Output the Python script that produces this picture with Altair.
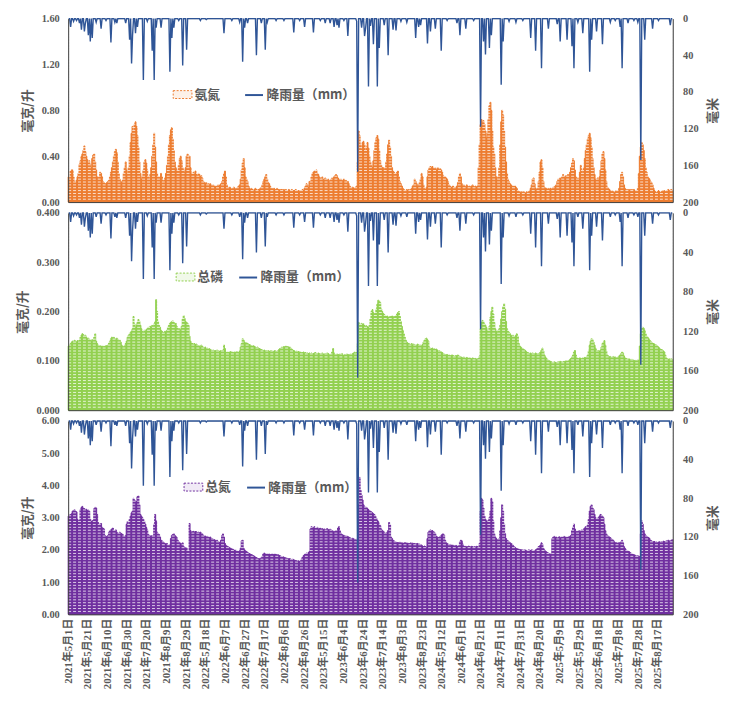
import altair as alt
import pandas as pd

YEARS = [2021, 2022, 2023, 2024, 2025]  # each year: 5月1日 - 8月31日, 123 days

# 氨氮 (毫克/升)
NH_2021 = [0.22, 0.20, 0.27, 0.28, 0.28, 0.22, 0.18, 0.17, 0.19, 0.22,
           0.25, 0.33, 0.36, 0.40, 0.42, 0.45, 0.49, 0.44, 0.40, 0.37,
           0.34, 0.36, 0.33, 0.30, 0.38, 0.41, 0.42, 0.35, 0.28, 0.22,
           0.20, 0.22, 0.26, 0.25, 0.22, 0.18, 0.17, 0.16, 0.16, 0.17,
           0.18, 0.19, 0.22, 0.26, 0.30, 0.35, 0.40, 0.44, 0.46, 0.43,
           0.35, 0.25, 0.20, 0.18, 0.17, 0.19, 0.25, 0.30, 0.35, 0.28,
           0.24, 0.30, 0.40, 0.52, 0.60, 0.66, 0.62, 0.68, 0.70, 0.66,
           0.58, 0.48, 0.35, 0.25, 0.20, 0.22, 0.28, 0.35, 0.37, 0.34,
           0.28, 0.22, 0.20, 0.24, 0.30, 0.40, 0.50, 0.60, 0.48, 0.35,
           0.25, 0.22, 0.20, 0.22, 0.25, 0.22, 0.18, 0.19, 0.21, 0.25,
           0.32, 0.40, 0.50, 0.58, 0.63, 0.65, 0.55, 0.45, 0.35, 0.30,
           0.28, 0.27, 0.32, 0.38, 0.40, 0.36, 0.30, 0.28, 0.26, 0.30,
           0.40, 0.42, 0.30]
NH_2022 = [0.40, 0.30, 0.25, 0.24, 0.26, 0.25, 0.27, 0.24, 0.23, 0.25,
           0.24, 0.22, 0.23, 0.21, 0.18, 0.17, 0.16, 0.17, 0.15, 0.16,
           0.15, 0.16, 0.15, 0.14, 0.15, 0.14, 0.13, 0.14, 0.13, 0.15,
           0.14, 0.15, 0.16, 0.18, 0.22, 0.25, 0.27, 0.22, 0.15, 0.13,
           0.12, 0.13, 0.12, 0.11, 0.12, 0.13, 0.12, 0.11, 0.12, 0.13,
           0.14, 0.15, 0.20, 0.28, 0.34, 0.38, 0.30, 0.22, 0.20, 0.18,
           0.14, 0.12, 0.11, 0.12, 0.11, 0.10, 0.11, 0.12, 0.11, 0.10,
           0.11, 0.11, 0.12, 0.13, 0.15, 0.18, 0.20, 0.22, 0.24, 0.20,
           0.17, 0.16, 0.14, 0.12, 0.12, 0.11, 0.12, 0.11, 0.11, 0.12,
           0.11, 0.11, 0.10, 0.11, 0.11, 0.10, 0.11, 0.10, 0.11, 0.10,
           0.10, 0.11, 0.10, 0.10, 0.11, 0.10, 0.10, 0.10, 0.11, 0.10,
           0.10, 0.10, 0.09, 0.10, 0.10, 0.11, 0.10, 0.12, 0.14, 0.16,
           0.15, 0.13, 0.18]
NH_2023 = [0.18, 0.22, 0.25, 0.26, 0.27, 0.26, 0.28, 0.25, 0.24, 0.22,
           0.21, 0.20, 0.22, 0.20, 0.19, 0.21, 0.20, 0.19, 0.20, 0.18,
           0.19, 0.20, 0.21, 0.20, 0.22, 0.23, 0.24, 0.23, 0.21, 0.20,
           0.19, 0.20, 0.18, 0.19, 0.20, 0.18, 0.19, 0.17, 0.18, 0.16,
           0.14, 0.13, 0.12, 0.13, 0.12, 0.12, 0.13, 0.14, 0.35, 0.62,
           0.58, 0.50, 0.46, 0.52, 0.53, 0.50, 0.45, 0.48, 0.52, 0.47,
           0.40, 0.35, 0.32, 0.30, 0.36, 0.45, 0.52, 0.56, 0.58, 0.55,
           0.45, 0.36, 0.32, 0.30, 0.30, 0.28, 0.30, 0.35, 0.42, 0.50,
           0.54, 0.48, 0.40, 0.30, 0.27, 0.26, 0.25, 0.24, 0.26, 0.27,
           0.22, 0.18, 0.16, 0.14, 0.12, 0.11, 0.10, 0.10, 0.11, 0.10,
           0.11, 0.10, 0.11, 0.12, 0.14, 0.15, 0.20, 0.18, 0.16, 0.14,
           0.15, 0.17, 0.20, 0.25, 0.22, 0.15, 0.12, 0.11, 0.13, 0.22,
           0.28, 0.30, 0.31]
NH_2024 = [0.30, 0.31, 0.30, 0.29, 0.30, 0.28, 0.29, 0.30, 0.28, 0.29,
           0.28, 0.26, 0.23, 0.22, 0.22, 0.21, 0.20, 0.18, 0.15, 0.14,
           0.13, 0.13, 0.14, 0.13, 0.12, 0.13, 0.14, 0.17, 0.22, 0.25,
           0.22, 0.16, 0.14, 0.15, 0.14, 0.13, 0.15, 0.14, 0.13, 0.14,
           0.13, 0.14, 0.15, 0.14, 0.13, 0.14, 0.13, 0.14, 0.30, 0.50,
           0.68, 0.72, 0.70, 0.71, 0.68, 0.62, 0.56, 0.60, 0.72, 0.84,
           0.87, 0.80, 0.62, 0.48, 0.42, 0.30, 0.22, 0.20, 0.22, 0.30,
           0.50, 0.70, 0.80, 0.76, 0.62, 0.48, 0.35, 0.25, 0.20, 0.18,
           0.16, 0.15, 0.14, 0.14, 0.13, 0.14, 0.13, 0.12, 0.10, 0.09,
           0.09, 0.08, 0.09, 0.08, 0.09, 0.08, 0.08, 0.09, 0.08, 0.09,
           0.10, 0.12, 0.15, 0.20, 0.21, 0.16, 0.12, 0.11, 0.12, 0.18,
           0.26, 0.35, 0.37, 0.30, 0.18, 0.13, 0.12, 0.12, 0.11, 0.12,
           0.11, 0.12, 0.11]
NH_2025 = [0.12, 0.13, 0.12, 0.14, 0.15, 0.18, 0.20, 0.19, 0.21, 0.20,
           0.22, 0.24, 0.22, 0.21, 0.23, 0.22, 0.24, 0.23, 0.26, 0.30,
           0.34, 0.38, 0.36, 0.28, 0.22, 0.20, 0.21, 0.20, 0.26, 0.32,
           0.28, 0.24, 0.30, 0.38, 0.45, 0.50, 0.55, 0.58, 0.60, 0.56,
           0.48, 0.38, 0.30, 0.24, 0.20, 0.19, 0.21, 0.20, 0.22, 0.28,
           0.36, 0.42, 0.44, 0.38, 0.28, 0.18, 0.13, 0.12, 0.11, 0.10,
           0.09, 0.10, 0.09, 0.08, 0.09, 0.10, 0.09, 0.10, 0.12, 0.18,
           0.24, 0.26, 0.22, 0.15, 0.12, 0.11, 0.10, 0.11, 0.10, 0.11,
           0.10, 0.11, 0.10, 0.11, 0.10, 0.09, 0.10, 0.12, 0.25, 0.40,
           0.48, 0.52, 0.50, 0.45, 0.38, 0.30, 0.26, 0.22, 0.21, 0.20,
           0.18, 0.17, 0.15, 0.12, 0.10, 0.09, 0.08, 0.09, 0.10, 0.09,
           0.08, 0.09, 0.10, 0.09, 0.10, 0.09, 0.10, 0.10, 0.11, 0.10,
           0.10, 0.11, 0.10]

# 总磷 (毫克/升)
TP_2021 = [0.130, 0.132, 0.135, 0.138, 0.140, 0.138, 0.142, 0.140, 0.138, 0.141,
           0.140, 0.142, 0.148, 0.152, 0.155, 0.153, 0.150, 0.152, 0.148, 0.145,
           0.146, 0.144, 0.142, 0.140, 0.143, 0.141, 0.148, 0.155, 0.140, 0.135,
           0.132, 0.130, 0.131, 0.129, 0.130, 0.128, 0.130, 0.129, 0.131, 0.130,
           0.132, 0.136, 0.140, 0.145, 0.148, 0.146, 0.148, 0.145, 0.142, 0.146,
           0.144, 0.140, 0.142, 0.138, 0.132, 0.130, 0.128, 0.131, 0.135, 0.140,
           0.148, 0.152, 0.155, 0.158, 0.160, 0.165, 0.190, 0.175, 0.168, 0.172,
           0.178, 0.184, 0.180, 0.172, 0.165, 0.160, 0.158, 0.162, 0.160, 0.163,
           0.165, 0.168, 0.166, 0.170, 0.168, 0.172, 0.170, 0.175, 0.180, 0.224,
           0.200, 0.180, 0.172, 0.168, 0.162, 0.160, 0.158, 0.156, 0.160, 0.158,
           0.162, 0.168, 0.172, 0.176, 0.178, 0.180, 0.181, 0.178, 0.175, 0.176,
           0.170, 0.166, 0.164, 0.165, 0.162, 0.170, 0.185, 0.192, 0.186, 0.180,
           0.178, 0.176, 0.172]
TP_2022 = [0.150, 0.140, 0.136, 0.135, 0.134, 0.135, 0.133, 0.134, 0.132, 0.131,
           0.130, 0.128, 0.132, 0.130, 0.127, 0.126, 0.128, 0.125, 0.126, 0.124,
           0.125, 0.123, 0.122, 0.121, 0.122, 0.120, 0.121, 0.120, 0.122, 0.121,
           0.120, 0.119, 0.121, 0.120, 0.122, 0.132, 0.125, 0.118, 0.117, 0.118,
           0.117, 0.118, 0.119, 0.117, 0.118, 0.116, 0.118, 0.117, 0.119, 0.118,
           0.117, 0.120, 0.128, 0.135, 0.145, 0.142, 0.138, 0.136, 0.137, 0.135,
           0.134, 0.133, 0.132, 0.131, 0.130, 0.131, 0.129, 0.128, 0.127, 0.128,
           0.126, 0.125, 0.124, 0.123, 0.122, 0.121, 0.122, 0.120, 0.121, 0.120,
           0.121, 0.119, 0.120, 0.121, 0.120, 0.119, 0.120, 0.121, 0.119, 0.120,
           0.121, 0.123, 0.125, 0.126, 0.128, 0.127, 0.129, 0.128, 0.130, 0.128,
           0.129, 0.127, 0.128, 0.126, 0.124, 0.122, 0.121, 0.120, 0.119, 0.120,
           0.118, 0.119, 0.117, 0.118, 0.116, 0.117, 0.118, 0.116, 0.117, 0.115,
           0.116, 0.115, 0.116]
TP_2023 = [0.115, 0.116, 0.114, 0.115, 0.116, 0.117, 0.115, 0.114, 0.116, 0.115,
           0.114, 0.115, 0.116, 0.114, 0.113, 0.115, 0.114, 0.116, 0.115, 0.113,
           0.112, 0.114, 0.118, 0.125, 0.116, 0.113, 0.112, 0.114, 0.113, 0.112,
           0.114, 0.113, 0.115, 0.112, 0.111, 0.113, 0.112, 0.114, 0.113, 0.112,
           0.113, 0.114, 0.112, 0.115, 0.116, 0.118, 0.115, 0.117, 0.135, 0.178,
           0.175, 0.172, 0.176, 0.174, 0.175, 0.172, 0.170, 0.171, 0.169, 0.168,
           0.172, 0.185, 0.200, 0.204, 0.198, 0.195, 0.197, 0.205, 0.215, 0.223,
           0.222, 0.218, 0.205, 0.200, 0.196, 0.194, 0.192, 0.190, 0.191, 0.189,
           0.188, 0.190, 0.189, 0.191, 0.188, 0.190, 0.189, 0.192, 0.195, 0.198,
           0.200, 0.190, 0.180, 0.170, 0.162, 0.155, 0.148, 0.142, 0.138, 0.136,
           0.135, 0.134, 0.133, 0.135, 0.132, 0.134, 0.133, 0.131, 0.132, 0.134,
           0.133, 0.131, 0.132, 0.130, 0.133, 0.138, 0.142, 0.145, 0.146, 0.143,
           0.140, 0.128, 0.125]
TP_2024 = [0.125, 0.126, 0.124, 0.125, 0.123, 0.124, 0.122, 0.120, 0.121, 0.119,
           0.118, 0.117, 0.115, 0.114, 0.113, 0.112, 0.113, 0.111, 0.112, 0.111,
           0.110, 0.112, 0.111, 0.110, 0.109, 0.111, 0.110, 0.112, 0.110, 0.109,
           0.108, 0.107, 0.106, 0.108, 0.106, 0.105, 0.107, 0.106, 0.105, 0.106,
           0.105, 0.104, 0.106, 0.105, 0.104, 0.105, 0.103, 0.104, 0.105, 0.110,
           0.165, 0.178, 0.182, 0.180, 0.175, 0.172, 0.168, 0.162, 0.160, 0.170,
           0.188, 0.200, 0.209, 0.195, 0.178, 0.165, 0.160, 0.158, 0.162, 0.165,
           0.172, 0.185, 0.200, 0.210, 0.216, 0.205, 0.180, 0.165, 0.160, 0.158,
           0.155, 0.152, 0.150, 0.152, 0.150, 0.148, 0.152, 0.155, 0.150, 0.135,
           0.130, 0.128, 0.126, 0.125, 0.123, 0.122, 0.120, 0.118, 0.117, 0.116,
           0.115, 0.116, 0.114, 0.116, 0.115, 0.114, 0.116, 0.115, 0.114, 0.115,
           0.116, 0.118, 0.122, 0.126, 0.120, 0.112, 0.108, 0.105, 0.103, 0.101,
           0.100, 0.099, 0.098]
TP_2025 = [0.097, 0.096, 0.098, 0.097, 0.096, 0.097, 0.098, 0.097, 0.099, 0.098,
           0.097, 0.098, 0.099, 0.098, 0.100, 0.099, 0.100, 0.101, 0.103, 0.105,
           0.108, 0.112, 0.118, 0.121, 0.112, 0.106, 0.105, 0.104, 0.106, 0.105,
           0.104, 0.106, 0.105, 0.107, 0.106, 0.108, 0.112, 0.120, 0.132, 0.140,
           0.145, 0.143, 0.138, 0.132, 0.126, 0.122, 0.120, 0.121, 0.119, 0.122,
           0.128, 0.135, 0.138, 0.141, 0.132, 0.120, 0.112, 0.110, 0.108, 0.109,
           0.107, 0.108, 0.109, 0.107, 0.108, 0.106, 0.107, 0.108, 0.110, 0.112,
           0.115, 0.118, 0.116, 0.110, 0.106, 0.105, 0.104, 0.103, 0.104, 0.103,
           0.102, 0.103, 0.102, 0.101, 0.100, 0.101, 0.100, 0.102, 0.101, 0.130,
           0.155, 0.165, 0.168, 0.166, 0.162, 0.155, 0.150, 0.148, 0.145, 0.142,
           0.140, 0.138, 0.136, 0.135, 0.134, 0.133, 0.132, 0.130, 0.128, 0.126,
           0.124, 0.123, 0.122, 0.120, 0.118, 0.112, 0.106, 0.104, 0.103, 0.104,
           0.103, 0.104, 0.103]

# 总氮 (毫克/升)
TN_2021 = [3.05, 3.08, 3.10, 3.12, 3.20, 3.22, 3.25, 3.20, 3.18, 2.95,
           2.90, 2.92, 3.25, 3.32, 3.35, 3.30, 3.28, 3.25, 3.26, 3.22,
           3.24, 3.20, 2.95, 2.88, 2.90, 2.92, 3.28, 3.32, 3.30, 3.10,
           2.85, 2.80, 2.78, 2.82, 2.70, 2.68, 2.65, 2.45, 2.40, 2.42,
           2.45, 2.55, 2.60, 2.62, 2.65, 2.68, 2.60, 2.58, 2.62, 2.55,
           2.52, 2.50, 2.55, 2.52, 2.50, 2.48, 2.42, 2.40, 2.45, 2.80,
           2.88, 2.75, 2.95, 3.05, 3.15, 3.20, 3.60, 3.55, 3.48, 3.50,
           3.65, 3.68, 3.40, 3.10, 3.05, 3.00, 2.95, 2.88, 2.80, 2.70,
           2.62, 2.48, 2.45, 2.42, 2.44, 2.40, 2.45, 2.80, 3.10, 2.90,
           2.55, 2.50, 2.48, 2.40, 2.30, 2.28, 2.25, 2.22, 2.20, 2.18,
           2.20, 2.15, 2.14, 2.16, 2.35, 2.45, 2.48, 2.50, 2.45, 2.42,
           2.38, 2.30, 2.25, 2.22, 2.20, 2.18, 2.22, 2.10, 2.08, 2.05,
           2.06, 1.98, 1.95]
TN_2022 = [2.82, 2.60, 2.55, 2.56, 2.58, 2.55, 2.57, 2.56, 2.54, 2.55,
           2.53, 2.55, 2.52, 2.50, 2.45, 2.42, 2.43, 2.41, 2.42, 2.40,
           2.38, 2.40, 2.36, 2.35, 2.33, 2.32, 2.30, 2.28, 2.30, 2.26,
           2.24, 2.22, 2.30, 2.45, 2.50, 2.40, 2.20, 2.15, 2.12, 2.10,
           2.08, 2.06, 2.05, 2.03, 2.02, 2.00, 1.98, 1.99, 1.97, 1.96,
           1.95, 1.97, 2.05, 2.28, 2.30, 2.05, 2.00, 1.98, 1.95, 1.92,
           1.90, 1.88, 1.87, 1.85, 1.84, 1.82, 1.80, 1.78, 1.76, 1.74,
           1.73, 1.72, 1.74, 1.75, 1.80, 1.88, 1.90, 1.88, 1.87, 1.88,
           1.86, 1.87, 1.85, 1.86, 1.88, 1.86, 1.85, 1.87, 1.86, 1.84,
           1.85, 1.83, 1.82, 1.80, 1.78, 1.79, 1.77, 1.76, 1.75, 1.74,
           1.73, 1.72, 1.73, 1.71, 1.70, 1.71, 1.69, 1.68, 1.67, 1.66,
           1.65, 1.66, 1.64, 1.66, 1.72, 1.78, 1.82, 1.85, 1.88, 1.90,
           1.88, 1.92, 1.95]
TN_2023 = [2.65, 2.72, 2.70, 2.68, 2.72, 2.66, 2.68, 2.70, 2.65, 2.66,
           2.68, 2.64, 2.66, 2.63, 2.65, 2.62, 2.64, 2.66, 2.63, 2.62,
           2.64, 2.62, 2.60, 2.58, 2.55, 2.58, 2.60, 2.56, 2.68, 2.72,
           2.60, 2.52, 2.48, 2.46, 2.45, 2.44, 2.42, 2.43, 2.41, 2.40,
           2.38, 2.36, 2.35, 2.36, 2.34, 2.33, 2.32, 2.30, 2.35, 3.40,
           4.25, 3.85, 3.70, 3.55, 3.40, 3.35, 3.30, 3.32, 3.28, 3.25,
           3.22, 3.20, 3.18, 3.15, 3.12, 3.10, 3.05, 2.98, 2.92, 2.88,
           2.80, 2.75, 2.65, 2.60, 2.58, 2.55, 2.52, 2.50, 2.55, 2.60,
           2.85, 2.78, 2.40, 2.35, 2.30, 2.28, 2.25, 2.24, 2.22, 2.23,
           2.22, 2.24, 2.21, 2.22, 2.20, 2.21, 2.23, 2.22, 2.20, 2.21,
           2.19, 2.20, 2.22, 2.18, 2.21, 2.19, 2.20, 2.18, 2.19, 2.20,
           2.17, 2.18, 2.16, 2.15, 2.12, 2.10, 2.12, 2.10, 2.08, 2.35,
           2.55, 2.60, 2.62]
TN_2024 = [2.58, 2.60, 2.56, 2.55, 2.50, 2.42, 2.40, 2.38, 2.40, 2.42,
           2.45, 2.48, 2.50, 2.46, 2.30, 2.22, 2.20, 2.18, 2.16, 2.17,
           2.15, 2.14, 2.15, 2.13, 2.12, 2.14, 2.12, 2.11, 2.13, 2.25,
           2.30, 2.28, 2.18, 2.12, 2.10, 2.11, 2.09, 2.10, 2.12, 2.10,
           2.09, 2.11, 2.10, 2.08, 2.10, 2.09, 2.11, 2.10, 2.08, 2.20,
           3.20, 3.60, 3.55, 3.30, 3.05, 2.95, 2.90, 2.88, 2.92, 3.00,
           3.20, 3.60, 3.50, 2.90, 2.50, 2.40, 2.35, 2.32, 2.30, 2.35,
           2.60, 3.00, 3.40, 3.20, 2.80, 2.50, 2.35, 2.30, 2.28, 2.25,
           2.22, 2.20, 2.18, 2.15, 2.10, 2.08, 2.05, 2.04, 2.03, 2.02,
           2.00, 2.01, 1.99, 2.00, 1.98, 2.00, 1.99, 1.97, 1.98, 2.00,
           1.99, 1.98, 2.00, 1.99, 1.97, 1.98, 2.00, 2.02, 2.05, 2.10,
           2.12, 2.15, 2.22, 2.18, 2.05, 2.00, 1.96, 1.94, 1.92, 1.90,
           1.88, 1.87, 1.86]
TN_2025 = [2.35, 2.40, 2.42, 2.38, 2.40, 2.36, 2.38, 2.41, 2.37, 2.39,
           2.40, 2.38, 2.42, 2.40, 2.36, 2.40, 2.38, 2.42, 2.40, 2.45,
           2.60, 2.70, 2.80, 2.65, 2.55, 2.58, 2.56, 2.60, 2.55, 2.58,
           2.62, 2.60, 2.65, 2.68, 2.72, 2.70, 2.78, 2.95, 3.20, 3.35,
           3.40, 3.30, 3.25, 3.10, 3.00, 2.95, 2.98, 3.00, 3.05, 3.10,
           3.08, 3.05, 3.00, 2.80, 2.60, 2.50, 2.45, 2.42, 2.40, 2.38,
           2.35, 2.32, 2.30, 2.25, 2.22, 2.23, 2.20, 2.22, 2.21, 2.23,
           2.25, 2.30, 2.22, 2.10, 2.05, 2.00, 1.98, 1.96, 1.95, 1.92,
           1.90, 1.88, 1.86, 1.85, 1.84, 1.82, 1.80, 1.82, 1.78, 1.80,
           2.50, 2.90, 2.80, 2.60, 2.50, 2.45, 2.42, 2.40, 2.38, 2.35,
           2.30, 2.28, 2.26, 2.25, 2.26, 2.24, 2.25, 2.23, 2.24, 2.25,
           2.24, 2.26, 2.25, 2.27, 2.26, 2.25, 2.28, 2.27, 2.30, 2.28,
           2.26, 2.30, 2.32]

# 降雨量 (mm): rainy days only, as position in the day list; all other days are 0
RAIN_DAY = [2, 5, 8, 11, 13, 16, 17, 20, 22, 24, 28, 33, 38, 43, 47, 49, 58, 62, 64, 65,
            68, 70, 76, 80, 85, 87, 89, 94, 103, 105, 107, 112, 116, 120,
            134, 140, 158, 166, 174, 177, 179, 182, 191, 196, 200, 202, 211, 219, 229, 235, 240,
            249, 256, 261, 266, 270, 273, 275, 280, 284, 293, 294, 298, 301, 302, 305, 307,
            310, 314, 316, 321, 325, 330, 333, 338, 344, 353, 356, 358, 365, 368,
            373, 379, 385, 395, 398, 404, 412, 419, 422, 424, 428, 430, 440, 442, 448,
            455, 462, 470, 475, 481, 488,
            497, 500, 507, 512, 514, 518, 523, 530, 532, 537, 543, 551, 556, 561, 563,
            569, 575, 579, 582, 586, 594, 600, 612]
RAIN_MM = [9, 3, 2, 5, 12, 14, 5, 18, 25, 21, 4, 11, 2, 26, 4, 5, 5, 23, 49, 18,
           16, 9, 67, 3, 35, 67, 10, 10, 58, 21, 10, 2, 51, 34,
           2, 1, 16, 2, 4, 47, 10, 5, 40, 5, 34, 4, 2, 2, 15, 2, 9,
           15, 2, 5, 5, 9, 7, 10, 2, 19, 3, 167, 10, 19, 11, 74, 8,
           28, 74, 32, 7, 40, 12, 13, 3, 4, 21, 9, 7, 27, 14,
           11, 35, 2, 5, 18, 11, 2, 118, 25, 39, 32, 18, 72, 25, 3,
           4, 2, 21, 35, 54, 11,
           6, 25, 23, 30, 54, 4, 16, 58, 23, 14, 28, 4, 2, 9, 54,
           5, 2, 4, 154, 23, 11, 2, 7]

NH_TICKS = [0, 0.4, 0.8, 1.2, 1.6]
TP_TICKS = [0, 0.1, 0.2, 0.3, 0.4]
TN_TICKS = [0, 1, 2, 3, 4, 5, 6]
RAIN_TICKS = [0, 40, 80, 120, 160, 200]

RAIN_NAME = "降雨量（mm）"
RAIN_COLOR = "#2f5597"
TEXT = "#595959"
AXIS_LINE = "#404040"
SERIF = "Liberation Serif, Noto Sans CJK SC"
CJK = "Noto Sans CJK SC"

days = []
for year in YEARS:
    for d in pd.date_range(f"{year}-05-01", f"{year}-08-31"):
        days.append(f"{d.year}年{d.month}月{d.day}日")

rain = [0] * len(days)
for i, mm in zip(RAIN_DAY, RAIN_MM):
    rain[i] = mm

df = pd.DataFrame({
    "day": days,
    "nh": NH_2021 + NH_2022 + NH_2023 + NH_2024 + NH_2025,
    "tp": TP_2021 + TP_2022 + TP_2023 + TP_2024 + TP_2025,
    "tn": TN_2021 + TN_2022 + TN_2023 + TN_2024 + TN_2025,
    "rain": rain,
})
date_ticks = days[::20]


def legend(x, y, box_fill=None):
    common = dict(orient="none", legendX=x, legendY=y, title=None, padding=0,
                  labelFont=CJK, labelFontSize=13, labelFontWeight="bold",
                  labelColor=TEXT, labelOffset=2)
    if box_fill:
        return alt.Legend(symbolType="M-1,-0.42H1V0.42H-1Z", symbolSize=361,
                          symbolStrokeWidth=1, symbolDash=[2, 1.5],
                          symbolFillColor=box_fill, **common)
    return alt.Legend(symbolType="stroke", symbolSize=330, symbolStrokeWidth=2, **common)


def panel(field, name, color, box_fill, ticks, fmt, height, hatch_step,
          box_xy, line_xy, dates=False):
    if dates:
        x_axis = alt.Axis(values=date_ticks, labelAngle=-90, labelFont=SERIF, labelFontSize=11,
                          labelFontWeight="bold", labelColor=TEXT, labelPadding=4,
                          ticks=False, domainColor=AXIS_LINE, zindex=1, title=None)
    else:
        x_axis = alt.Axis(labels=False, ticks=False, domainColor=AXIS_LINE, zindex=1, title=None)
    x = alt.X("day:N", sort=None, scale=alt.Scale(paddingInner=0, paddingOuter=0), axis=x_axis)
    y_scale = alt.Scale(domain=[0, ticks[-1]], nice=False)
    left_axis = alt.Axis(values=ticks, format=fmt, title="毫克/升", ticks=False, grid=False,
                         labelFont=SERIF, labelFontSize=10.5, labelFontWeight="bold",
                         labelColor=TEXT, labelPadding=9, domainColor=AXIS_LINE,
                         titleFont=CJK, titleFontSize=13, titleColor=TEXT,
                         titleFontWeight="bold", titlePadding=7, zindex=1)

    bars = alt.Chart(df).transform_calculate(series=f"'{name}'").mark_bar().encode(
        x=x,
        y=alt.Y(f"{field}:Q", scale=y_scale, axis=left_axis),
        fill=alt.Fill("series:N", scale=alt.Scale(range=[color]), legend=None),
        stroke=alt.Stroke("series:N", scale=alt.Scale(range=[color]),
                          legend=legend(*box_xy, box_fill=box_fill)),
    )
    # white dashed horizontal hatch over the bars (invisible on the white background)
    hatch = alt.Chart(alt.sequence(hatch_step, ticks[-1], hatch_step, as_="h")).mark_rule(
        color="white", strokeWidth=0.85, strokeDash=[3, 2], opacity=0.9
    ).encode(y=alt.Y("h:Q", scale=y_scale, axis=left_axis))

    line = alt.Chart(df).transform_calculate(series=f"'{RAIN_NAME}'").mark_line(
        strokeWidth=1.4
    ).encode(
        x=x,
        y=alt.Y("rain:Q", scale=alt.Scale(domain=[0, 200], reverse=True, nice=False),
                axis=alt.Axis(orient="right", values=RAIN_TICKS, title="毫米", ticks=False,
                              grid=False, labelFont=SERIF, labelFontSize=10.5,
                              labelFontWeight="bold", labelColor=TEXT, labelPadding=10,
                              domainColor=AXIS_LINE, titleFont=CJK, titleFontSize=13,
                              titleColor=TEXT, titleFontWeight="bold", titleAngle=-90,
                              titlePadding=22, zindex=1)),
        stroke=alt.Stroke("series:N", scale=alt.Scale(range=[RAIN_COLOR]),
                          legend=legend(*line_xy)),
    )
    return alt.layer(alt.layer(bars, hatch), line).resolve_scale(
        y="independent", stroke="independent"
    ).properties(width=613, height=height)


p1 = panel("nh", "氨氮", "#ed7d31", "#fdf1e8", NH_TICKS, ".2f", 186, 0.025,
           (106, 67), (178, 67))
p2 = panel("tp", "总磷", "#92d050", "#f1f9e9", TP_TICKS, ".3f", 200, 0.006,
           (109, 55), (172, 55))
p3 = panel("tn", "总氮", "#7030a0", "#f1eaf6", TN_TICKS, ".2f", 196, 0.09,
           (117, 57), (180, 57), dates=True)

chart = alt.vconcat(p1, p2, p3, spacing=11, bounds="flush").resolve_scale(
    stroke="independent", fill="independent"
).configure_view(stroke=None).configure(
    background="white", padding={"left": 7, "top": 0, "right": 5, "bottom": 0}
)

chart.save("out.html", embed_options={"renderer": "svg", "actions": False})
